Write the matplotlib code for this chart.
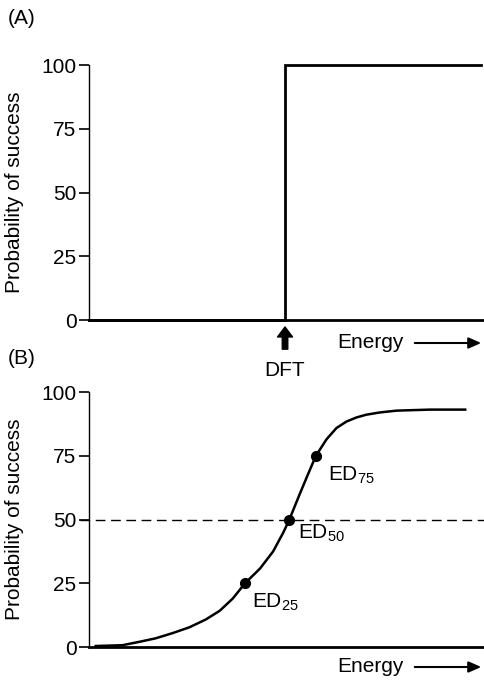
import matplotlib
matplotlib.use("Agg")
import matplotlib.pyplot as plt

plt.rcParams["font.family"] = ["Liberation Sans", "DejaVu Sans"]
plt.rcParams["mathtext.fontset"] = "custom"
plt.rcParams["mathtext.rm"] = "Liberation Sans"
plt.rcParams["mathtext.it"] = "Liberation Sans"
plt.rcParams["mathtext.default"] = "regular"

# panel A: step at the defibrillation threshold
step_x = [0, 49.5, 49.5, 99]
step_y = [0, 0, 100, 100]
dft_x = 49.5

# panel B: dose-response curve
curve_x = [1.7, 8.4, 12.6, 16.8, 21.0, 25.3, 29.5, 33.0, 36.3, 39.4,
           43.2, 46.5, 49.1, 50.6, 53.3, 55.4, 57.3, 60.0, 62.5, 65.0,
           67.5, 70.0, 73.5, 77.7, 86.1, 95.0]
curve_y = [0.4, 0.7, 2.0, 3.4, 5.4, 7.7, 10.8, 14.2, 19.0, 25.0,
           30.8, 37.5, 45.0, 50.0, 60.3, 68.1, 75.0, 81.5, 85.9, 88.4,
           90.0, 91.1, 92.0, 92.7, 93.1, 93.1]
ed_x = [39.4, 50.6, 57.3]
ed_y = [25, 50, 75]
ed_labels = [r"ED$_{25}$", r"ED$_{50}$", r"ED$_{75}$"]
yticks = [0, 25, 50, 75, 100]

FS = 15
fig = plt.figure(figsize=(4.85, 6.8), dpi=100)
axA = fig.add_axes([0.1835, 0.5294, 0.8165, 0.375])
axB = fig.add_axes([0.1835, 0.0485, 0.8165, 0.375])

for ax in (axA, axB):
    ax.set_xlim(0, 100)
    ax.set_ylim(0, 100)
    ax.set_yticks(yticks)
    ax.set_xticks([])
    ax.spines["top"].set_visible(False)
    ax.spines["right"].set_visible(False)
    ax.spines["left"].set_linewidth(1.0)
    ax.spines["bottom"].set_linewidth(2.0)
    ax.tick_params(axis="y", direction="out", length=7, width=1.2,
                   labelsize=FS, pad=2)
    ax.set_ylabel("Probability of success", fontsize=FS)
    ax.yaxis.set_label_coords(-0.165, 0.5)

axA.plot(step_x, step_y, color="black", lw=2.0, clip_on=False,
         solid_joinstyle="miter")
axA.annotate("", xy=(dft_x, 0), xytext=(0, -21), textcoords="offset points",
             arrowprops=dict(arrowstyle="simple,head_length=0.4,head_width=0.6,tail_width=0.22",
                             color="black", shrinkA=0, shrinkB=5,
                             mutation_scale=18))
axA.annotate("DFT", xy=(dft_x, 0), xytext=(0, -36), textcoords="offset points",
             ha="center", va="center", fontsize=FS, annotation_clip=False)

axB.axhline(50, xmin=-0.022, color="black", lw=1.0, ls=(0, (7, 4)),
            clip_on=False)
axB.plot(curve_x, curve_y, color="black", lw=1.8, solid_joinstyle="round")
axB.plot(ed_x, ed_y, "o", color="black", ms=7)
offsets = [(5, -14), (6, -10), (9, -14)]
for x, y, lab, off in zip(ed_x, ed_y, ed_labels, offsets):
    axB.annotate(lab, xy=(x, y), xytext=off, textcoords="offset points",
                 ha="left", va="center", fontsize=FS)

# energy labels with arrows
for ytxt in (1 - 343 / 680, 1 - 667 / 680):
    fig.text(337 / 485, ytxt, "Energy", fontsize=FS, ha="left", va="center")
    fig.add_artist(matplotlib.patches.FancyArrowPatch(
        (412 / 485, ytxt), (484 / 485, ytxt), transform=fig.transFigure,
        arrowstyle="-|>,head_length=0.5,head_width=0.22", mutation_scale=15,
        color="black", lw=1.5))

fig.text(8 / 485, 1 - 19 / 680, "(A)", fontsize=FS, ha="left", va="center")
fig.text(8 / 485, 1 - 358 / 680, "(B)", fontsize=FS, ha="left", va="center")

fig.savefig("out.png", dpi=100)
